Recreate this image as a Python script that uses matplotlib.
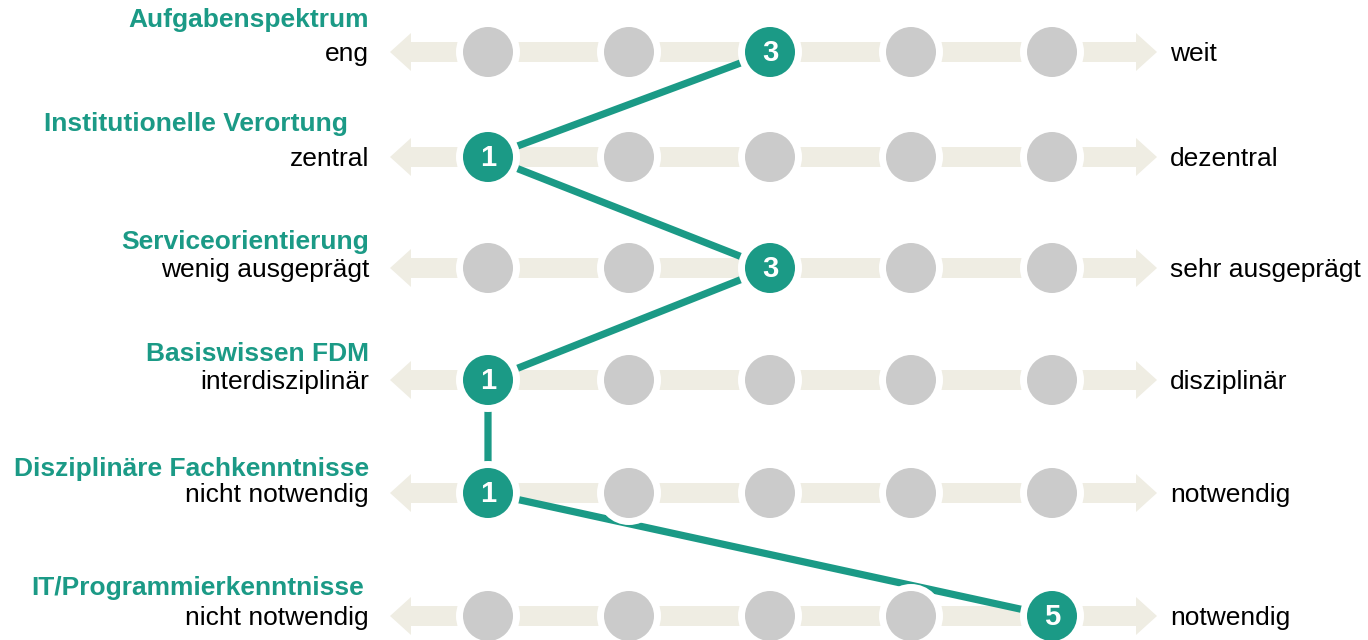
import matplotlib.pyplot as plt
import matplotlib.patches as mpatches

# dimensions (top to bottom), left/right poles and the chosen level (1..5)
dimensions = ['Aufgabenspektrum', 'Institutionelle Verortung', 'Serviceorientierung',
              'Basiswissen FDM', 'Disziplinäre Fachkenntnisse', 'IT/Programmierkenntnisse']
left_labels = ['eng', 'zentral', 'wenig ausgeprägt', 'interdisziplinär',
               'nicht notwendig', 'nicht notwendig']
right_labels = ['weit', 'dezentral', 'sehr ausgeprägt', 'disziplinär',
                'notwendig', 'notwendig']
selected = [3, 1, 3, 1, 1, 5]
levels = [1, 2, 3, 4, 5]

# layout (pixel coordinates)
row_y = [52, 157, 268, 380, 493, 616]
title_y = [18, 122, 240, 352, 467, 586]
title_dx = [0, -21, 0, 0, 0, -5]
text_dy = 2
x0, step = 488, 141
r_circle = 25
halo = 7

teal = '#1b9a86'
grey = '#cbcbcb'
band = '#efede3'

plt.rcParams['font.family'] = ['Liberation Sans', 'DejaVu Sans']

fig = plt.figure(figsize=(13.68, 6.4), dpi=100)
ax = fig.add_axes([0, 0, 1, 1])
ax.set_xlim(0, 1368)
ax.set_ylim(640, 0)
ax.set_aspect('equal')
ax.axis('off')

xs = [x0 + step * (lv - 1) for lv in levels]
left_end, right_end = xs[0] - 98, xs[-1] + 105
mid = (left_end + right_end) / 2

for i, y in enumerate(row_y):
    # double headed band
    for tip in (left_end, right_end):
        ax.add_patch(mpatches.FancyArrow(mid, y, tip - mid, 0, width=20,
                                         head_width=38, head_length=21,
                                         length_includes_head=True,
                                         color=band, lw=0, zorder=1))
    ax.text(369 + title_dx[i], title_y[i] + text_dy, dimensions[i], ha='right',
            va='center', fontsize=19, fontweight='bold', color=teal)
    ax.text(369, y + text_dy, left_labels[i], ha='right', va='center',
            fontsize=19, color='black')
    ax.text(1170, y + text_dy, right_labels[i], ha='left', va='center',
            fontsize=19, color='black')

# profile line
px = [xs[s - 1] for s in selected]
ax.plot(px, row_y, color=teal, lw=5.2, solid_capstyle='butt', zorder=2)

for i, y in enumerate(row_y):
    for lv, x in zip(levels, xs):
        ax.add_patch(mpatches.Circle((x, y), r_circle + halo, color='white', lw=0, zorder=3))
        on = lv == selected[i]
        ax.add_patch(mpatches.Circle((x, y), r_circle, color=teal if on else grey,
                                     lw=0, zorder=4))
        if on:
            ax.text(x, y + 1, str(lv), ha='center', va='center', fontsize=21,
                    fontweight='bold', color='white', zorder=5)

fig.savefig('out.png', dpi=100)
